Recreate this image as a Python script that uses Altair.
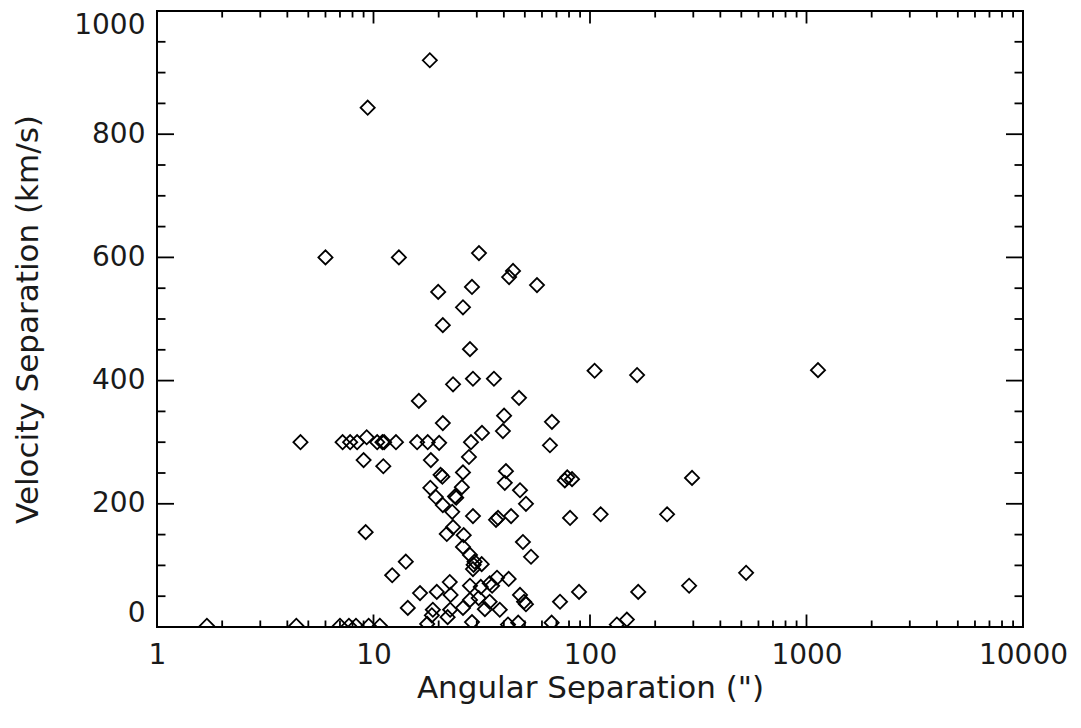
import altair as alt
import pandas as pd

# Angular separation (arcsec) and velocity separation (km/s)
ang_sep = [
    18.2, 9.4, 6.0, 13.1, 30.7, 44.1, 42.3, 28.5, 19.9, 56.9,
    25.9, 20.9, 27.9, 23.3, 28.8, 36.0, 105, 165, 1130, 16.2,
    47.0, 20.9, 40.1, 39.6, 66.7, 65.3, 31.7, 28.2, 27.6,
    4.6, 7.2, 7.8, 8.4, 9.3, 10.4, 11.0, 11.2, 12.7, 15.9, 17.8, 20.1,
    9.0, 11.1, 18.4, 20.4, 20.8, 25.9, 25.6, 18.3, 19.4, 23.8, 24.1,
    40.9, 40.4, 47.5, 50.6, 76.5, 78.5, 82.6, 20.9, 23.1, 28.8,
    37.6, 36.8, 43.2, 80.9, 112, 227, 296, 23.3, 21.8, 26.1,
    25.9, 27.9, 29.3, 29.0, 31.6, 28.8, 49.0, 53.4, 14.1, 9.2,
    12.2, 37.2, 42.1, 34.4, 35.3, 22.5, 27.9, 31.3, 19.6, 16.4,
    22.7, 47.5, 49.6, 50.6, 89, 167, 287, 72.7, 526, 14.4,
    18.8, 18.6, 22.6, 22.0, 25.9, 30.6, 27.9, 34.4, 32.7, 38.3,
    1.7, 4.4, 7.0, 7.7, 8.3, 9.5, 10.7, 17.7, 28.5, 41.8,
    46.6, 66.5, 133, 148,
]
vel_sep = [
    920, 843, 600, 600, 607, 578, 568, 552, 544, 555,
    519, 490, 451, 394, 403, 403, 416, 409, 417, 367,
    372, 331, 343, 318, 333, 295, 315, 300, 276,
    300, 300, 300, 300, 308, 300, 300, 300, 300, 300, 300, 299,
    271, 261, 271, 247, 244, 251, 227, 226, 211, 212, 210,
    253, 234, 222, 200, 238, 243, 240, 198, 187, 180,
    177, 174, 180, 177, 183, 183, 242, 162, 151, 149,
    130, 117, 106, 101, 102, 94, 138, 114, 106, 154,
    84, 80, 78, 71, 67, 73, 67, 65, 57, 55,
    52, 52, 41, 37, 57, 57, 67, 41, 88, 31,
    28, 19, 28, 16, 31, 47, 44, 41, 29, 28,
    2, 2, 2, 2, 2, 2, 2, 5, 8, 4,
    7, 7, 4, 12,
]

x_major = [1, 10, 100, 1000, 10000]
x_minor = [m * d for d in [1, 10, 100, 1000] for m in range(2, 10)]
y_major = [0, 200, 400, 600, 800, 1000]
y_minor = [v for v in range(50, 1000, 50) if v % 200 != 0]

W, H = 866, 616
FONT = "DejaVu Sans"
TXT = "#1a1a1a"

pts = pd.DataFrame({"ang": ang_sep, "vel": vel_sep})

xscale = alt.Scale(type="log", domain=[1, 10000], nice=False)
yscale = alt.Scale(domain=[0, 1000], nice=False, zero=False)

x_axis = alt.Axis(values=x_major, format="d", ticks=False, tickSize=0,
                  domain=False, grid=False, labelFlush=False,
                  labelFont=FONT, labelFontSize=28, labelColor=TXT,
                  labelPadding=36, labelBaseline="alphabetic",
                  titleFont=FONT, titleFontSize=31, titleFontWeight="normal",
                  titleColor=TXT, titleX=W / 2, titleY=70,
                  titleBaseline="alphabetic", titleAlign="center")
y_axis = alt.Axis(values=y_major, format="d", ticks=False, tickSize=0,
                  domain=False, grid=False, labelFlush=True,
                  labelFont=FONT, labelFontSize=28, labelColor=TXT,
                  labelPadding=12,
                  titleFont=FONT, titleFontSize=31, titleFontWeight="normal",
                  titleColor=TXT, titleX=-120, titleY=H / 2,
                  titleBaseline="alphabetic", titleAlign="center")

X_TITLE = "Angular Separation (\")"
Y_TITLE = "Velocity Separation (km/s)"

points = alt.Chart(pts).mark_point(
    shape="diamond", filled=False, color="black", size=200, strokeWidth=1.8,
    opacity=1, clip=True
).encode(
    x=alt.X("ang:Q", scale=xscale, title=X_TITLE, axis=x_axis),
    y=alt.Y("vel:Q", scale=yscale, title=Y_TITLE, axis=y_axis),
)

def xticks(vals, length):
    df = pd.DataFrame({"v": vals})
    base = alt.Chart(df).mark_rule(color="black", strokeWidth=1.8)
    enc_x = alt.X("v:Q", scale=xscale, title=X_TITLE, axis=x_axis)
    bot = base.encode(x=enc_x, y=alt.value(H), y2=alt.value(H - length))
    top = base.encode(x=enc_x, y=alt.value(0), y2=alt.value(length))
    return [bot, top]

def yticks(vals, length):
    df = pd.DataFrame({"v": vals})
    base = alt.Chart(df).mark_rule(color="black", strokeWidth=1.8)
    enc_y = alt.Y("v:Q", scale=yscale, title=Y_TITLE, axis=y_axis)
    left = base.encode(y=enc_y, x=alt.value(0), x2=alt.value(length))
    right = base.encode(y=enc_y, x=alt.value(W), x2=alt.value(W - length))
    return [left, right]

layers = ([points] + xticks(x_major, 12.5) + xticks(x_minor, 6.5)
          + yticks(y_major, 17) + yticks(y_minor, 8.5))

chart = alt.layer(*layers).properties(
    width=W, height=H,
    autosize=alt.AutoSizeParams(type="none"),
    padding={"left": 149, "top": 3, "right": 50, "bottom": 93},
    background="white",
).configure_view(stroke="black", strokeWidth=2)

chart.save("out.html", embed_options={"renderer": "svg", "actions": False})
